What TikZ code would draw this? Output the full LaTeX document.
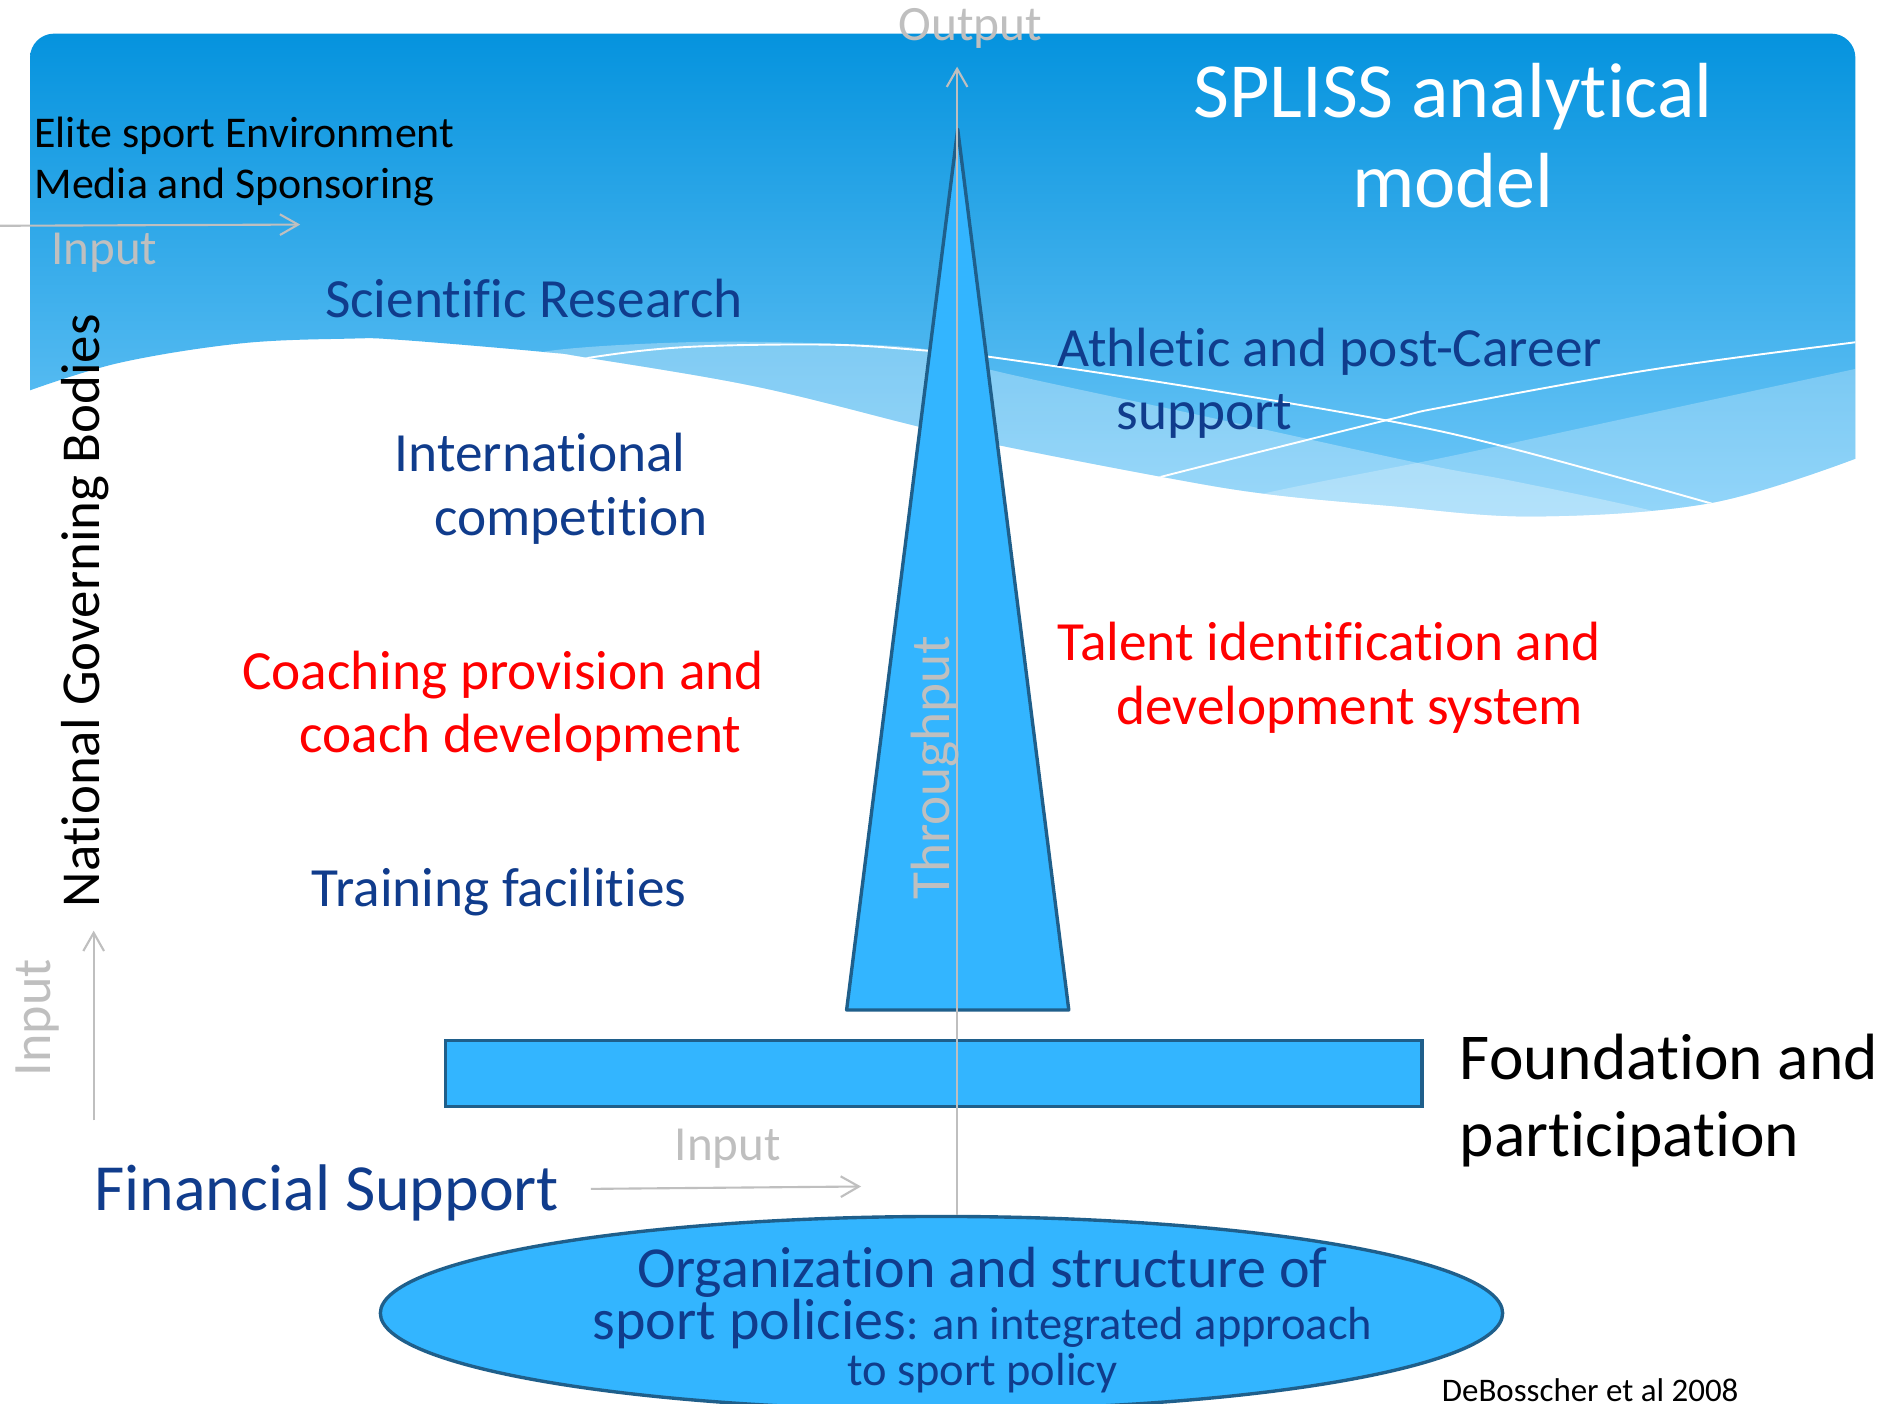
\documentclass[tikz,border=0pt]{standalone}
\usepackage{fontspec}
\setmainfont{Carlito}[Ligatures=NoCommon]
\usetikzlibrary{arrows.meta,shapes.geometric}
\definecolor{txtblue}{HTML}{103C8C}
\definecolor{txtred}{HTML}{FF0000}
\definecolor{graytxt}{HTML}{BFBFBF}
\definecolor{bgtop}{HTML}{0593DE}
\definecolor{bgbot}{HTML}{70C8F8}
\definecolor{shapefill}{HTML}{33B5FF}
\definecolor{shapeline}{HTML}{1F5F8B}
\tikzset{
  lbl/.style={font=\fontsize{13.1pt}{15pt}\selectfont, text=txtblue, anchor=base west, inner sep=0pt},
  redlbl/.style={lbl, text=txtred},
  blacklbl/.style={anchor=base west, inner sep=0pt, text=black},
  graylbl/.style={text=graytxt, inner sep=0pt, font=\fontsize{11.6pt}{14pt}\selectfont},
  garrow/.style={draw=graytxt, line width=0.5pt, -{Straight Barb[length=4.3pt,width=4.9pt]}},
  solid shape/.style={draw=shapeline, fill=shapefill, line width=0.8pt},
  wline/.style={draw=white, line width=0.45pt},
}
\begin{document}
\begin{tikzpicture}[x=0.01cm,y=-0.01cm]
\useasboundingbox (0,0) rectangle (1568,1169);
\fill[white] (0,0) rectangle (1568,1169);

% background wave region
\shade[top color=bgtop, bottom color=bgbot]
  (25,325) -- (25,48) arc[start angle=180,end angle=270,radius=20]
  -- (1525,28) arc[start angle=270,end angle=360,radius=20]
  -- (1545,382) -- plot[smooth,tension=0.6] coordinates {(1545,382) (1424,419) (1277,430) (1155,421) (1052,411) (967,397) (833,371) (764,355) (630,322) (490,298) (452,293) (333,283) (290,282) (200,286) (100,302) (25,325)} -- cycle;

\begin{scope}
\clip
  (25,325) -- (25,48) arc[start angle=180,end angle=270,radius=20]
  -- (1525,28) arc[start angle=270,end angle=360,radius=20]
  -- (1545,382) -- plot[smooth,tension=0.6] coordinates {(1545,382) (1424,419) (1277,430) (1155,421) (1052,411) (967,397) (833,371) (764,355) (630,322) (490,298) (452,293) (333,283) (290,282) (200,286) (100,302) (25,325)} -- cycle;
\fill[white, opacity=0.3] plot[smooth,tension=0.6] coordinates {(420,310) (452,293) (571,285) (690,286) (772,291) (825,308) (1000,346) (1183,386) (1257,400) (1366,423) (1450,445)} -- (1450,600) -- (420,600) -- cycle;
\fill[white, opacity=0.25] plot[smooth,tension=0.6] coordinates {(1560,304) (1374,344) (1207,380) (1052,411) (940,440)} -- (940,600) -- (1560,600) -- cycle;
\draw[wline] plot[smooth,tension=0.6] coordinates {(470,305) (490,298) (571,289) (690,287) (772,292) (823,297) (990,322) (1154,350) (1257,373) (1424,419) (1450,428)};
\draw[wline] plot[smooth,tension=0.6] coordinates {(940,405) (967,397) (1154,350) (1207,338) (1374,308) (1545,285) (1560,284)};
\end{scope}

% triangle
\coordinate (apex) at (797.5,107.6);
\coordinate (tribl) at (705,841);
\coordinate (tribr) at (890,841);
\draw[solid shape, line join=round] (apex) -- (tribl) -- (tribr) -- cycle;

% foundation bar
\node[solid shape, rectangle, minimum width=8.13cm, minimum height=0.55cm, inner sep=0pt] (bar) at (777.5,894) {};

% ellipse
\node[solid shape, ellipse, minimum width=9.34cm, minimum height=1.61cm, inner sep=0pt] (ell) at (784,1093.5) {};

% output arrow
\coordinate (outtip) at (797,55.5);
\draw[garrow] (outtip |- ell.north) -- (outtip);
\node[graylbl, anchor=base, font=\fontsize{11.7pt}{14pt}\selectfont] (output) at (808,34) {Output};

% input arrows
\coordinate (tlA) at (0,188);
\coordinate (tlB) at (250,187);
\draw[garrow] (tlA) -- (tlB);
\node[graylbl, anchor=base west] (intl) at (42,220) {Input};

\coordinate (lvA) at (78,933);
\coordinate (lvB) at (78,775);
\draw[garrow] (lvA) -- (lvB);
\node[graylbl, rotate=90, anchor=base west, font=\fontsize{12.8pt}{15pt}\selectfont] (inrot) at (42,897) {Input};

\coordinate (finA) at (492,990);
\coordinate (finB) at (717,988);
\draw[garrow] (finA) -- (finB);
\node[graylbl, anchor=base] (infin) at (606,966) {Input};

% titles and labels
\node[anchor=base, inner sep=0pt, text=white, font=\fontsize{18.5pt}{21pt}\selectfont] (title1) at (1210,98) {SPLISS analytical};
\node[anchor=base, inner sep=0pt, text=white, font=\fontsize{18.5pt}{21pt}\selectfont] (title2) at (1210,172.5) {model};

\node[blacklbl, font=\fontsize{10.4pt}{12pt}\selectfont] (elite) at (28,122.5) {Elite sport Environment};
\node[blacklbl, font=\fontsize{10.4pt}{12pt}\selectfont] (media) at (28,165) {Media and Sponsoring};

\node[lbl] (sci) at (270,264) {Scientific Research};
\node[lbl] (ath1) at (880,305) {Athletic and post-Career};
\node[lbl] (ath2) at (929,357.5) {support};
\node[lbl] (int1) at (328,393) {International};
\node[lbl] (int2) at (361,446) {competition};
\node[redlbl] (coa1) at (201,574) {Coaching provision and};
\node[redlbl] (coa2) at (249,627) {coach development};
\node[redlbl] (tal1) at (880,550) {Talent identification and};
\node[redlbl] (tal2) at (929,603) {development system};
\node[lbl] (train) at (259,755) {Training facilities};

\node[blacklbl, rotate=90, font=\fontsize{13pt}{15pt}\selectfont] (ngb) at (83,756) {National Governing Bodies};
\node[graylbl, rotate=90, anchor=base west, font=\fontsize{13.1pt}{15pt}\selectfont] (thru) at (791,750) {Throughput};

\node[blacklbl, font=\fontsize{15.5pt}{18pt}\selectfont] (found1) at (1215,899) {Foundation and};
\node[blacklbl, font=\fontsize{15.5pt}{18pt}\selectfont] (found2) at (1215,963) {participation};

\node[lbl, font=\fontsize{15.6pt}{18pt}\selectfont] (fin) at (78,1008) {Financial Support};

\node[anchor=base, inner sep=0pt, text=txtblue, font=\fontsize{13.75pt}{16pt}\selectfont] (org1) at (818,1072) {Organization and structure of};
\node[anchor=base, inner sep=0pt, text=txtblue, font=\fontsize{13.75pt}{16pt}\selectfont] (org2) at (818,1115) {sport policies{\fontsize{11pt}{13pt}\selectfont: an integrated approach}};
\node[anchor=base, inner sep=0pt, text=txtblue, font=\fontsize{11pt}{13pt}\selectfont] (org3) at (818,1154) {to sport policy};

\node[blacklbl, font=\fontsize{7.8pt}{9pt}\selectfont] (cite) at (1200,1167) {DeBosscher et al 2008};
\end{tikzpicture}
\end{document}
